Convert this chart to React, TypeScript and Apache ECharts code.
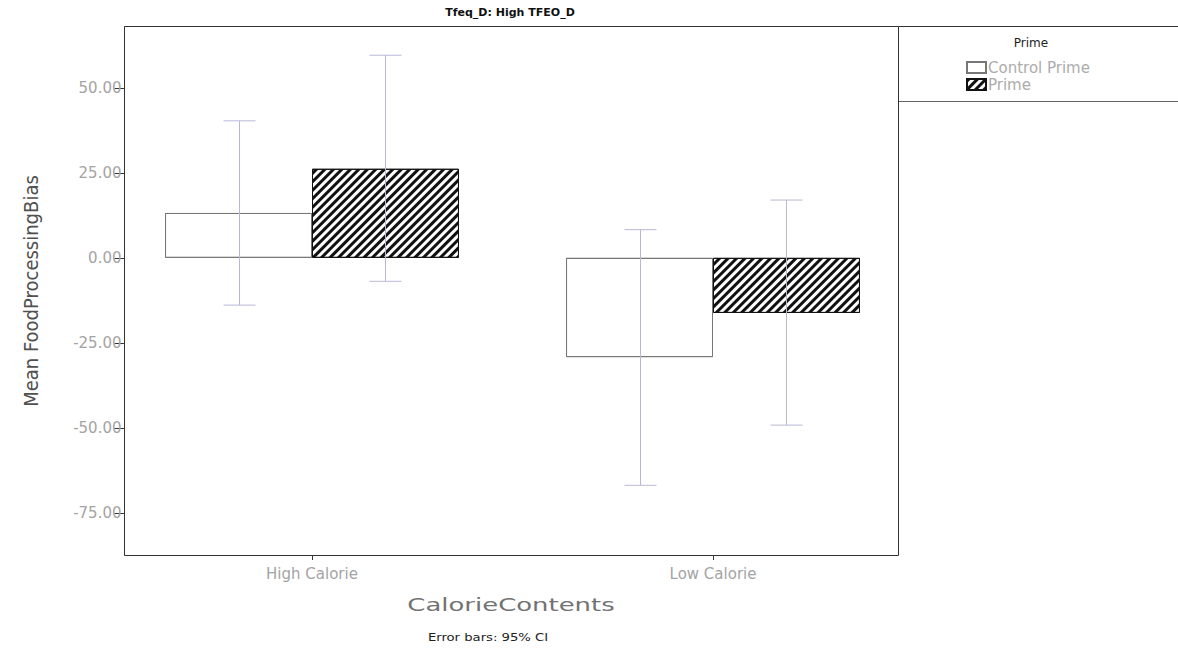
import React, { useEffect, useRef } from 'react';
import * as echarts from 'echarts';

// Group means and 95% confidence limits of FoodProcessingBias
const categories = ['High Calorie', 'Low Calorie'];
const seriesNames = ['Control Prime', 'Prime'];
const controlMean = [13.2, -29.2];
const primeMean = [26.2, -16.2];
const controlLower = [-13.9, -66.9];
const controlUpper = [40.3, 8.3];
const primeLower = [-6.9, -49.2];
const primeUpper = [59.6, 17.0];
const yTicks = [-75, -50, -25, 0, 25, 50];

const CATEGORY_GAP = 0.267;
const FONT = '"DejaVu Sans", "Liberation Sans", sans-serif';

export default function App() {
  const ref = useRef<HTMLDivElement>(null);

  useEffect(() => {
    if (!ref.current) return;
    const chart = echarts.init(ref.current, undefined, { renderer: 'svg' });

    const errorData = [
      ...categories.map((_, i) => [i, controlLower[i], controlUpper[i], 0]),
      ...categories.map((_, i) => [i, primeLower[i], primeUpper[i], 1]),
    ];

    chart.setOption({
      animation: false,
      backgroundColor: '#ffffff',
      aria: { enabled: true, decal: { show: true } },
      grid: { left: 111.5, right: 264.5, top: 27, bottom: 97, containLabel: false },
      legend: {
        orient: 'vertical',
        left: 966,
        top: 60,
        padding: 0,
        itemWidth: 19,
        itemHeight: 11,
        itemGap: 2,
        icon: 'rect',
        data: seriesNames,
        textStyle: {
          fontFamily: FONT,
          fontSize: 15,
          lineHeight: 14,
          color: '#acacac',
          padding: [0, 0, 0, -3],
        },
      },
      xAxis: {
        type: 'category',
        data: categories,
        axisLine: { show: false, onZero: false },
        axisTick: { show: true, alignWithLabel: true, length: 5, lineStyle: { color: '#333' } },
        axisLabel: { margin: 11, fontFamily: FONT, fontSize: 15, color: '#a4a4a4' },
        splitLine: { show: false },
      },
      yAxis: {
        type: 'value',
        min: -87.4,
        max: 67.9,
        offset: -13,
        name: 'Mean FoodProcessingBias',
        nameLocation: 'middle',
        nameGap: 84,
        nameRotate: 90,
        nameTextStyle: {
          fontFamily: '"Liberation Sans Narrow", "DejaVu Sans Condensed", "Liberation Sans", sans-serif',
          fontSize: 20,
          color: '#505050',
        },
        axisLine: { show: true, lineStyle: { color: '#333' } },
        axisTick: { show: true, length: 10, customValues: yTicks, lineStyle: { color: '#333' } },
        axisLabel: {
          customValues: yTicks,
          margin: 3,
          fontFamily: FONT,
          fontSize: 15,
          color: '#a4a4a4',
          formatter: (v: number) => v.toFixed(2),
        },
        splitLine: { show: false },
      },
      series: [
        {
          name: seriesNames[0],
          type: 'bar',
          data: controlMean,
          barGap: '0%',
          barCategoryGap: `${CATEGORY_GAP * 100}%`,
          itemStyle: {
            color: '#ffffff',
            borderColor: '#777777',
            borderWidth: 1,
            decal: { symbol: 'none', color: 'rgba(0,0,0,0)', dashArrayX: [1, 0], dashArrayY: [1, 0] },
          },
        },
        {
          name: seriesNames[1],
          type: 'bar',
          data: primeMean,
          barGap: '0%',
          barCategoryGap: `${CATEGORY_GAP * 100}%`,
          itemStyle: {
            color: '#ffffff',
            borderColor: '#111111',
            borderWidth: 1,
            decal: {
              symbol: 'rect',
              symbolSize: 1,
              color: '#111111',
              dashArrayX: [1, 0],
              dashArrayY: [3, 3],
              rotation: -Math.PI / 4,
            },
          },
        },
        {
          name: 'Error bars',
          type: 'custom',
          z: 10,
          data: errorData,
          encode: { x: 0, y: [1, 2] },
          renderItem: (params: any, api: any) => {
            const cat = api.value(0);
            const which = api.value(3);
            const band = api.size([1, 0])[0];
            const off = (band * (1 - CATEGORY_GAP)) / 4 * (which === 0 ? -1 : 1);
            const lo = api.coord([cat, api.value(1)]);
            const hi = api.coord([cat, api.value(2)]);
            const x = Math.round(lo[0] + off) + 0.5;
            const cap = 16;
            const style = { stroke: '#b8b8d6', lineWidth: 1 };
            return {
              type: 'group',
              children: [
                { type: 'line', shape: { x1: x, y1: lo[1], x2: x, y2: hi[1] }, style },
                { type: 'line', shape: { x1: x - cap, y1: lo[1], x2: x + cap, y2: lo[1] }, style },
                { type: 'line', shape: { x1: x - cap, y1: hi[1], x2: x + cap, y2: hi[1] }, style },
              ],
            };
          },
        },
      ],
      graphic: [
        {
          type: 'rect',
          shape: { x: 124.5, y: 26.5, width: 774, height: 529 },
          style: { fill: 'none', stroke: '#333', lineWidth: 1 },
          silent: true,
          z: 20,
        },
        {
          type: 'line',
          shape: { x1: 898.5, y1: 26.5, x2: 1178, y2: 26.5 },
          style: { stroke: '#333', lineWidth: 1 },
          silent: true,
        },
        {
          type: 'line',
          shape: { x1: 898.5, y1: 101.5, x2: 1178, y2: 101.5 },
          style: { stroke: '#666', lineWidth: 1 },
          silent: true,
        },
        {
          type: 'text',
          x: 510,
          y: 12,
          style: {
            text: 'Tfeq_D: High TFEO_D',
            font: `bold 11px ${FONT}`,
            fill: '#111',
            textAlign: 'center',
            textVerticalAlign: 'middle',
          },
        },
        {
          type: 'text',
          x: 1031,
          y: 43,
          style: {
            text: 'Prime',
            font: `12px ${FONT}`,
            fill: '#222',
            textAlign: 'center',
            textVerticalAlign: 'middle',
          },
        },
        {
          type: 'text',
          x: 511,
          y: 605,
          scaleX: 1.44,
          style: {
            text: 'CalorieContents',
            font: `18px ${FONT}`,
            fill: '#727272',
            textAlign: 'center',
            textVerticalAlign: 'middle',
          },
        },
        {
          type: 'text',
          x: 488,
          y: 637,
          scaleX: 1.2,
          style: {
            text: 'Error bars: 95% CI',
            font: `11px ${FONT}`,
            fill: '#222',
            textAlign: 'center',
            textVerticalAlign: 'middle',
          },
        },
      ],
    });

    return () => chart.dispose();
  }, []);

  return <div ref={ref} style={{ width: 1178, height: 652, position: 'absolute', left: 0, top: 0 }} />;
}
